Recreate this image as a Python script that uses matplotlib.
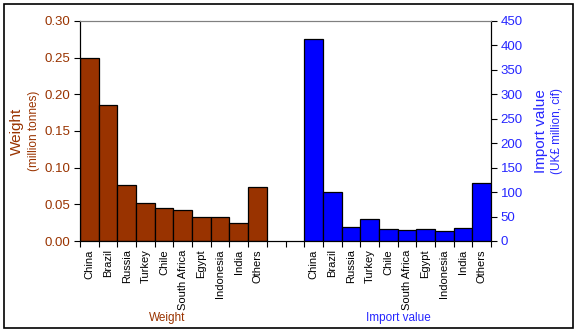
import matplotlib
matplotlib.use("Agg")
import matplotlib.pyplot as plt
from matplotlib.patches import Rectangle

plt.rcParams["font.family"] = ["Liberation Sans", "DejaVu Sans"]

# data
countries = ["China", "Brazil", "Russia", "Turkey", "Chile", "South Africa",
             "Egypt", "Indonesia", "India", "Others"]
weight = [0.250, 0.185, 0.077, 0.052, 0.045, 0.042, 0.033, 0.033, 0.025, 0.074]
import_value = [413, 101, 29, 46, 25, 23, 25, 21, 27, 118]
weight_ticks = [0.00, 0.05, 0.10, 0.15, 0.20, 0.25, 0.30]
value_ticks = [0, 50, 100, 150, 200, 250, 300, 350, 400, 450]

brown = "#993300"
blue = "#0000ff"

n = len(countries)
gap = 2
x_weight = list(range(n))
x_value = [n + gap + i for i in range(n)]
n_slots = 2 * n + gap

fig = plt.figure(figsize=(5.77, 3.32), dpi=100)
ax = fig.add_axes([80 / 577, 91 / 332, 411 / 577, 220 / 332])
ax2 = ax.twinx()

ax.bar(x_weight, weight, width=1.0, color=brown, edgecolor="black", linewidth=0.9)
ax2.bar(x_value, import_value, width=1.0, color=blue, edgecolor="black", linewidth=0.9)

ax.set_xlim(-0.5, n_slots - 0.5)
ax.set_ylim(0, 0.30)
ax2.set_ylim(0, 450)
ax.set_yticks(weight_ticks)
ax.set_yticklabels([f"{v:.2f}" for v in weight_ticks], color=brown, fontsize=9.5)
ax2.set_yticks(value_ticks)
ax2.set_yticklabels([str(v) for v in value_ticks], color="#2626ff", fontsize=9.5)

# category labels at bar centres, tick marks at slot boundaries
ax.set_xticks(x_weight + x_value)
ax.set_xticklabels(countries + countries, rotation=90, fontsize=8)
ax.set_xticks([i - 0.5 for i in range(n_slots + 1)], minor=True)
ax.tick_params(axis="x", which="major", length=0, pad=6)
ax.tick_params(axis="x", which="minor", length=4, width=0.8, direction="out")
ax.tick_params(axis="y", length=4, width=0.8, direction="out", pad=3)
ax2.tick_params(axis="y", length=4, width=0.8, direction="out", pad=3)

for a in (ax, ax2):
    a.spines["top"].set_color("#808080")
    a.spines["left"].set_color("black")
    a.spines["right"].set_color("black")
    a.spines["bottom"].set_color("black")

# axis titles
fig.text(17 / 577, 1 - 131 / 332, "Weight", rotation=90, color=brown,
         fontsize=11, ha="center", va="center")
fig.text(34 / 577, 1 - 131 / 332, "(million tonnes)", rotation=90, color=brown,
         fontsize=8.5, ha="center", va="center")
fig.text(541 / 577, 1 - 131 / 332, "Import value", rotation=90, color="#2626ff",
         fontsize=11, ha="center", va="center")
fig.text(557 / 577, 1 - 131 / 332, "(UK£ million, cif)", rotation=90, color="#2626ff",
         fontsize=8.5, ha="center", va="center")
fig.text(167 / 577, 1 - 318 / 332, "Weight", color=brown, fontsize=8.5,
         ha="center", va="center")
fig.text(398 / 577, 1 - 318 / 332, "Import value", color="#2626ff", fontsize=8.5,
         ha="center", va="center")

# chart border
fig.patches.append(Rectangle((4 / 577, 4 / 332), 569 / 577, 324 / 332,
                             transform=fig.transFigure, fill=False,
                             edgecolor="black", linewidth=1.2))

fig.savefig("out.png", dpi=100)
